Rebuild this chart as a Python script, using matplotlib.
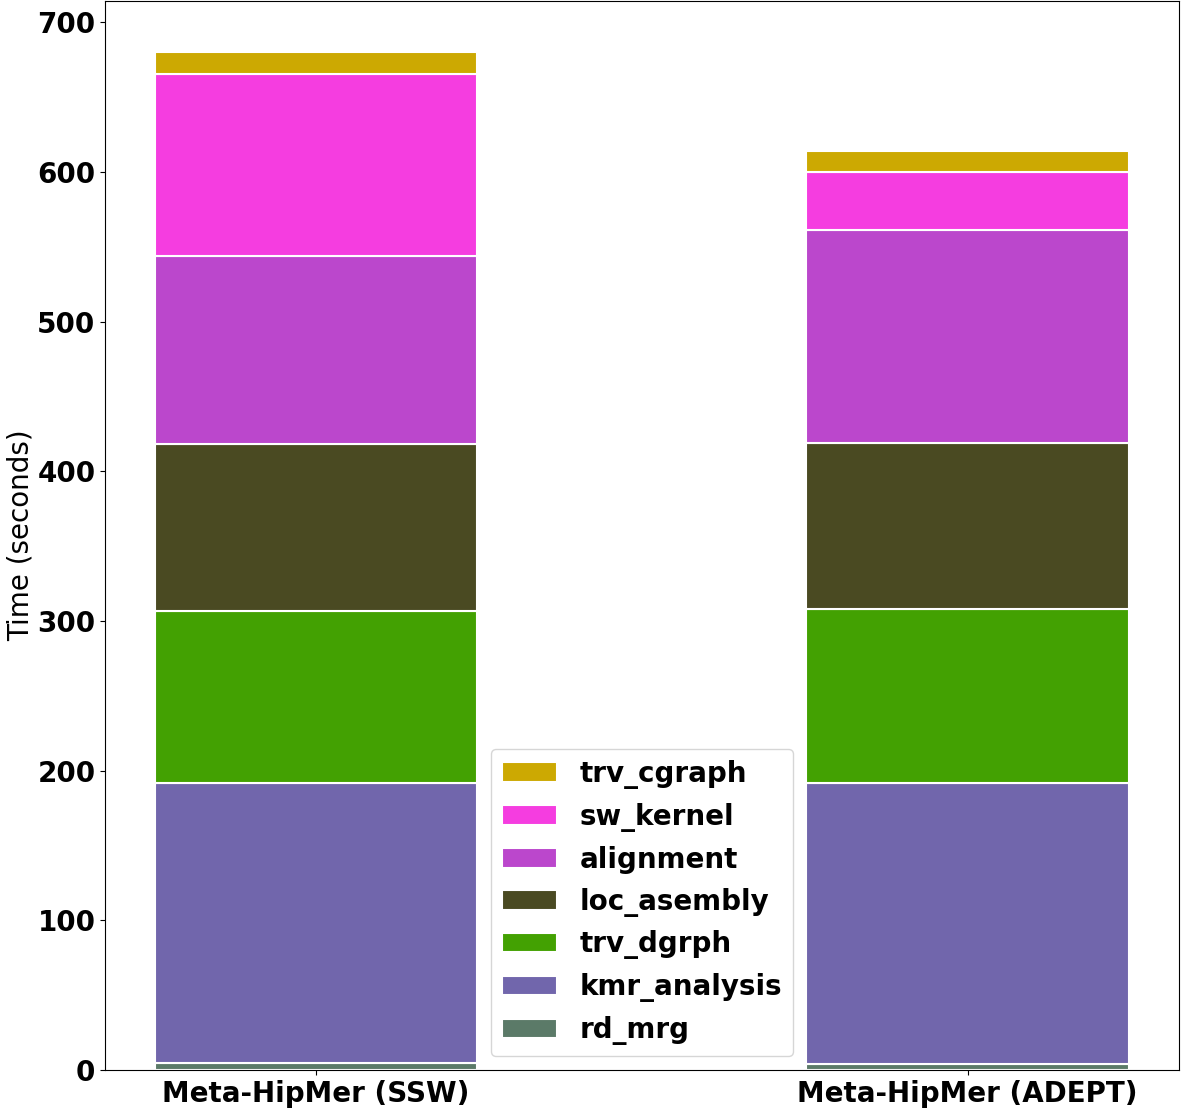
import numpy as np
import matplotlib
matplotlib.use("Agg")
import matplotlib.pyplot as plt

# ==========================================================
# DATA
# ==========================================================

runs = ["Meta-HipMer (SSW)", "Meta-HipMer (ADEPT)"]

stages = ["rd_mrg", "kmr_analysis", "trv_dgrph", "loc_asembly",
          "alignment", "sw_kernel", "trv_cgraph"]

rd_mrg = [5, 4]
kmr_analysis = [187, 188]
trv_dgrph = [115, 116]
loc_asembly = [111, 111]
alignment = [126, 142]
sw_kernel = [121, 39]
trv_cgraph = [15, 14]

colors = ["#5b7a68", "#7166ac", "#43a102", "#4a4a22",
          "#bb47cc", "#f53de0", "#cca902"]

# ==========================================================
# PLOT
# ==========================================================

fig = plt.figure(figsize=(11.81, 11.09), dpi=100)
ax = fig.add_axes([0.089, 0.035, 0.909, 0.964])

series = [rd_mrg, kmr_analysis, trv_dgrph, loc_asembly,
          alignment, sw_kernel, trv_cgraph]

x = np.arange(len(runs))
bottom = np.zeros(len(runs))

for name, vals, col in zip(stages, series, colors):
    ax.bar(x, vals, width=0.495, bottom=bottom, color=col,
           edgecolor="white", linewidth=1.5, label=name)
    bottom = bottom + np.array(vals)

ax.set_xlim(-0.324, 1.324)
ax.set_ylim(0, 714)
ax.set_xticks(x)
ax.set_xticklabels(runs, fontsize=20, fontweight="bold")
ax.set_yticks(np.arange(0, 701, 100))
ax.set_yticklabels([str(v) for v in range(0, 701, 100)],
                   fontsize=20, fontweight="bold")
ax.set_ylabel("Time (seconds)", fontsize=20)
ax.yaxis.labelpad = 2

handles, labels = ax.get_legend_handles_labels()
ax.legend(handles[::-1], labels[::-1], loc="lower center",
          prop={"size": 20, "weight": "bold"})

plt.savefig("out.png", dpi=100)
